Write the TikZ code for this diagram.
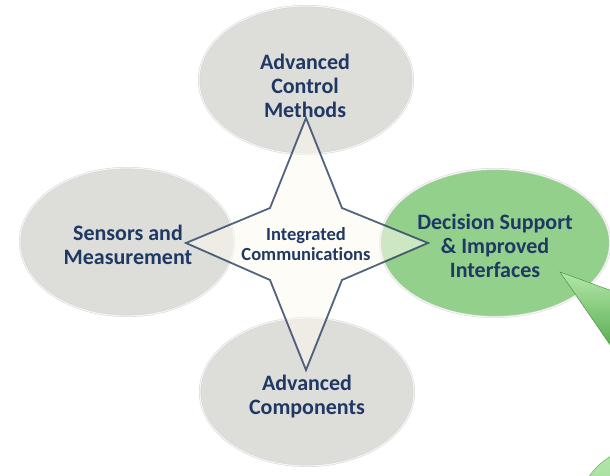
\documentclass[tikz,border=0pt]{standalone}
\usepackage{fontspec}
\setmainfont{Carlito}[Ligatures=NoCommon]
\usetikzlibrary{shapes.geometric,positioning}
\definecolor{navy}{RGB}{31,56,100}
\definecolor{pebble}{RGB}{221,221,217}
\definecolor{leaf}{RGB}{146,208,140}
\definecolor{leafdark}{RGB}{84,168,76}
\definecolor{leaflight}{RGB}{178,232,168}
\definecolor{cream}{RGB}{252,250,238}
\definecolor{rim}{RGB}{40,62,96}

\begin{document}
\begin{tikzpicture}[
		x=1pt,y=-1pt,
		bubble/.style={
			ellipse,
			fill=pebble,
			draw=gray!35,
			double=white!92!gray,
			double distance=1.2pt,
			minimum width=214pt,
			minimum height=148pt,
			inner sep=0pt
		},
		caption/.style={
			text=navy,
			align=center,
			font=\fontsize{22}{24}\selectfont\bfseries
		},
		hub/.style={
			fill=cream,
			fill opacity=0.55,
			draw=rim,
			draw opacity=0.8,
			line width=1.8pt,
			line join=miter
		}
		]
		\clip (0,0) rectangle (610,476);
		
		% Bubbles round the hub
		\node[bubble] (ctrl) at (306,80) {};
		\node[bubble] (sens) at (127,242) {};
		\node[bubble] (comp) at (307,392) {};
		\node[bubble, fill=leaf, minimum width=230pt] (dec) at (495,243) {};
		
		% Pointer and corner blob
		\shade[top color=leaflight, bottom color=leafdark, draw=leafdark!80!black, line width=0.4pt]
		(560,272) -- (615,292) -- (615,352) -- cycle;
		\shade[top color=leaflight, bottom color=leaf, draw=leafdark, line width=0.4pt]
		(650,520) circle (75);
		
		% Four-pointed star
		\coordinate (hubc) at (306,244);
		\draw[hub] (306,118) -- (342,208) -- (428,243) -- (342,280) -- (306,370)
		-- (270,280) -- (186,243) -- (270,208) -- cycle;
		
		% Texts
		\node[caption] (ctrltext) at (305,86) {Advanced\\Control\\Methods};
		\node[caption] (senstext) at (128,245) {Sensors and\\Measurement};
		\node[caption] (dectext) at (495,246) {Decision Support\\\& Improved\\Interfaces};
		\node[caption] (comptext) at (307,397) {Advanced\\Components};
		\node[caption, font=\fontsize{18.5}{20}\selectfont\bfseries] (commtext) at (hubc) {Integrated\\Communications};
	\end{tikzpicture}
\end{document}
